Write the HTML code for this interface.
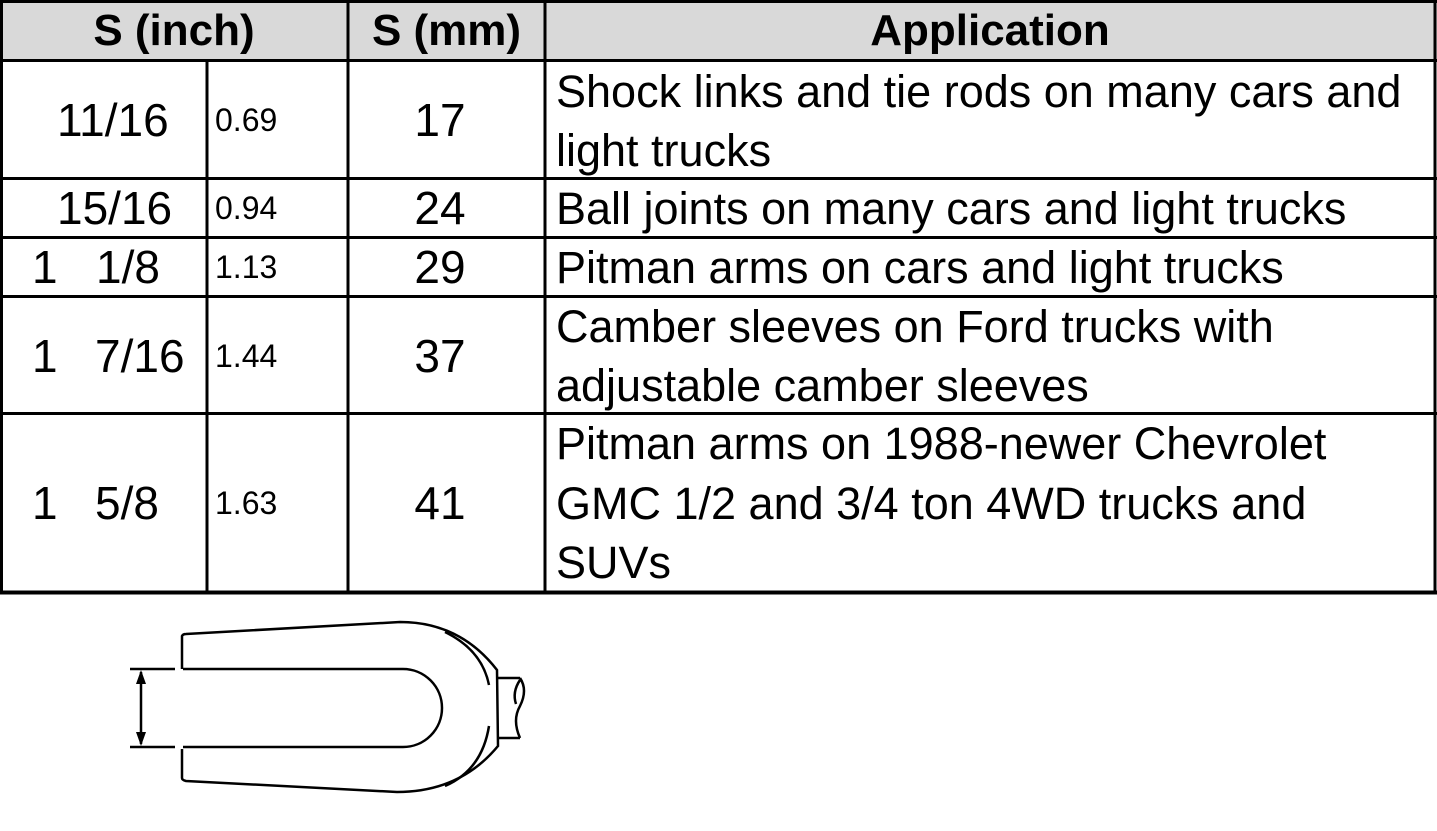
<!DOCTYPE html>
<html><head><style>
body{margin:0;width:1437px;height:831px;background:#fff;position:relative;overflow:hidden;font-family:"Liberation Sans",Arial,sans-serif;color:#000}
.t{position:absolute;white-space:nowrap;line-height:59px}
.h{font-weight:bold;font-size:44px;line-height:62px;text-align:center;top:0}
.b{font-size:45px}
.n{font-size:46px}
.s{font-size:32px}
.c{left:348px;width:184px;text-align:center}
</style></head><body>
<div style="position:absolute;left:0;top:0;width:1437px;height:61px;background:#d9d9d9"></div>
<svg style="position:absolute;left:0;top:0" width="1437" height="831">
<g stroke="#000" stroke-width="3" fill="none">
<line x1="0" y1="1.5" x2="1437" y2="1.5"/>
<line x1="0" y1="60.5" x2="1437" y2="60.5"/>
<line x1="0" y1="178.5" x2="1437" y2="178.5"/>
<line x1="0" y1="237.5" x2="1437" y2="237.5"/>
<line x1="0" y1="296.5" x2="1437" y2="296.5"/>
<line x1="0" y1="413.5" x2="1437" y2="413.5"/>
<line x1="0" y1="592.5" x2="1437" y2="592.5" stroke-width="4"/>
<line x1="1.5" y1="0" x2="1.5" y2="594"/>
<line x1="207" y1="60" x2="207" y2="594"/>
<line x1="348" y1="0" x2="348" y2="594"/>
<line x1="545" y1="0" x2="545" y2="594"/>
<line x1="1435" y1="0" x2="1435" y2="594"/>
</g>
<g stroke="#000" stroke-width="2.5" fill="none">
<path d="M182,669 L182,636 Q183,634 186,634 L400,622 Q460,622 497,670 L498,746 Q460,792 397,792 L186,781 Q182,780 182,778 L182,749"/>
<path d="M183,669 L403,669 A39,39 0 0 1 403,747 L183,747"/>
<path d="M489,685 Q482,650 445,632"/>
<path d="M489,726 Q482,770 445,786"/>
<path d="M498,678 L520,678 M498,738 L520,738"/>
<path d="M520,678 Q528,690 520,706 Q512,720 520,738"/>
<path d="M520,680 Q512,692 516,704"/>
<line x1="130" y1="669" x2="175" y2="669"/>
<line x1="130" y1="747" x2="175" y2="747"/>
<line x1="141" y1="672" x2="141" y2="744"/>
</g>
<path d="M141,670 L136,684 L146,684Z M141,746 L136,732 L146,732Z" fill="#000"/>
</svg>
<div class="t h" style="left:1px;width:346px">S (inch)</div>
<div class="t h" style="left:348px;width:197px">S (mm)</div>
<div class="t h" style="left:545px;width:890px">Application</div>

<div class="t n" style="left:57px;top:91px">11/16</div>
<div class="t s" style="left:215px;top:91px">0.69</div>
<div class="t n c" style="top:91px">17</div>
<div class="t b" style="left:556px;top:62px">Shock links and tie rods on many cars and</div>
<div class="t b" style="left:556px;top:121px">light trucks</div>

<div class="t n" style="left:57px;top:179px">15/16</div>
<div class="t s" style="left:215px;top:179px">0.94</div>
<div class="t n c" style="top:179px">24</div>
<div class="t b" style="left:556px;top:179px">Ball joints on many cars and light trucks</div>

<div class="t n" style="left:32px;top:238px">1</div><div class="t n" style="left:96px;top:238px">1/8</div>
<div class="t s" style="left:215px;top:238px">1.13</div>
<div class="t n c" style="top:238px">29</div>
<div class="t b" style="left:556px;top:238px">Pitman arms on cars and light trucks</div>

<div class="t n" style="left:32px;top:327px">1</div><div class="t n" style="left:95px;top:327px">7/16</div>
<div class="t s" style="left:215px;top:327px">1.44</div>
<div class="t n c" style="top:327px">37</div>
<div class="t b" style="left:556px;top:297px">Camber sleeves on Ford trucks with</div>
<div class="t b" style="left:556px;top:356px">adjustable camber sleeves</div>

<div class="t n" style="left:32px;top:474px">1</div><div class="t n" style="left:95px;top:474px">5/8</div>
<div class="t s" style="left:215px;top:474px">1.63</div>
<div class="t n c" style="top:474px">41</div>
<div class="t b" style="left:556px;top:414px">Pitman arms on 1988-newer Chevrolet</div>
<div class="t b" style="left:556px;top:474px">GMC 1/2 and 3/4 ton 4WD trucks and</div>
<div class="t b" style="left:556px;top:533px">SUVs</div>
</body></html>
